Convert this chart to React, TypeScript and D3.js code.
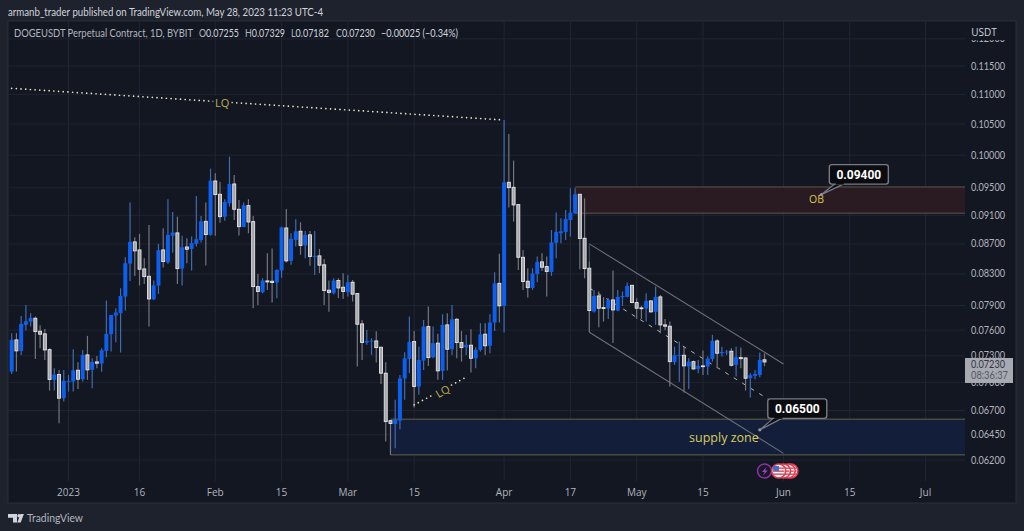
import React from "react";
import * as d3 from "d3";

const firstDay = "2022-12-20";

const opens = [
  .07122, .07485, .07357, .07663, .07703, .07743, .07587, .07556, .07372, .07030,
  .07089, .06831, .07008, .07012, .07137, .07037, .07311, .07141, .07231, .07212,
  .07357, .07552, .07776, .07805, .08011, .08437, .08728, .08619, .08366, .08270,
  .07977, .08150, .08619, .08454, .08812, .08852, .08370, .08659, .08632, .08702,
  .08755, .09014, .08825, .09603, .09405, .09080, .09273, .09558, .09186, .08934,
  .09239, .09010, .08137, .08066, .08210, .08206, .08189, .08345, .08921, .08472,
  .08755, .08875, .08680, .08825, .08525, .08539, .08420, .08091, .08054, .08215,
  .08129, .08066, .08193, .08049, .07675, .07454, .07466, .07473, .07399, .07104,
  .06595, .06561, .06595, .07045, .07264, .07466, .06957, .07246, .07643, .07284,
  .07447, .07130, .07663, .07376, .07731, .07454, .07399, .07423, .07272, .07368,
  .07552, .07416, .07691, .08179, .07895, .09583, .09508, .09254, .08520, .08206,
  .08120, .08301, .08459, .08397, .08327, .08715, .08848, .08866, .09033, .09128,
  .09405, .08778, .08375, .07825, .08019, .07874, .07862, .07969, .07837, .08003,
  .08007, .08154, .07936, .07870, .07862, .07957, .07821, .08007, .07663, .07647,
  .07227, .07299, .07307, .07179, .07234, .07152, .07186, .07179, .07264, .07473,
  .07330, .07338, .07353, .07197, .07280, .07276, .07048, .07074, .07085, .07255,
];
const highs = [
  .07564, .07564, .07772, .07907, .07805, .07764, .07659, .07615, .07387, .07160,
  .07141, .07141, .07085, .07376, .07227, .07368, .07532, .07272, .07299, .07387,
  .07961, .07784, .07866, .08116, .08520, .09283, .08793, .08838, .08507, .08962,
  .08215, .08702, .08916, .09331, .09148, .09080, .08812, .08778, .08802, .09379,
  .09090, .09283, .09790, .09720, .09593, .09331, .09977, .09695, .09321, .09283,
  .09331, .09090, .08299, .08245, .08573, .08637, .08362, .08939, .09191, .08848,
  .09043, .09000, .08880, .08880, .08880, .08632, .08498, .08215, .08245, .08245,
  .08310, .08288, .08223, .08054, .07723, .07603, .07505, .07587, .07406, .07227,
  .06602, .06813, .07085, .07341, .07764, .07591, .07406, .07723, .07886, .07643,
  .07556, .07792, .07805, .07907, .07743, .07591, .07544, .07611, .07399, .07683,
  .07683, .07792, .08323, .08566, .10566, .10337, .09914, .09259, .08619, .08375,
  .08375, .08529, .08573, .08529, .08893, .09138, .09057, .09176, .09493, .09493,
  .09410, .09345, .08463, .08095, .08074, .08003, .07990, .08345, .08095, .08074,
  .08189, .08158, .07990, .07895, .08054, .07961, .08137, .08032, .07735, .07703,
  .07406, .07466, .07406, .07272, .07246, .07253, .07360, .07292, .07544, .07493,
  .07406, .07368, .07387, .07406, .07395, .07280, .07104, .07141, .07338, .07329,
];
const lows = [
  .07096, .07122, .07311, .07595, .07643, .07264, .07387, .07253, .06913, .06913,
  .06567, .06795, .06902, .06902, .06931, .07012, .07030, .06938, .07160, .07119,
  .07284, .07349, .07458, .07338, .07837, .08210, .08275, .08152, .08171, .07643,
  .07969, .08045, .08384, .08433, .08581, .08171, .08150, .08441, .08345, .08664,
  .08720, .08410, .08812, .08812, .08995, .09024, .09225, .09033, .08816, .08930,
  .08848, .07866, .07907, .08054, .08095, .07936, .07990, .08249, .08450, .08420,
  .08664, .08553, .08507, .08406, .08288, .08310, .07907, .07821, .08037, .07990,
  .07981, .08011, .07948, .07179, .07253, .07427, .07311, .07223, .06986, .06382,
  .06249, .06315, .06506, .06813, .07104, .06731, .06867, .07141, .07186, .07272,
  .07030, .07030, .07134, .07311, .07272, .07234, .07311, .07111, .07160, .07349,
  .07311, .07330, .07591, .07691, .07572, .09211, .09010, .08353, .08095, .07998,
  .08095, .08193, .08340, .08011, .08275, .08507, .08711, .08755, .08802, .09120,
  .08362, .08245, .07576, .07813, .07635, .07703, .07735, .07447, .07829, .07895,
  .08003, .07928, .07735, .07735, .07703, .07813, .07663, .07564, .07603, .06957,
  .07197, .07008, .06892, .06931, .07141, .07104, .07085, .07085, .07234, .07160,
  .07292, .07311, .07179, .07067, .07160, .06913, .06838, .07037, .07060, .07182,
];
const closes = [
  .07485, .07357, .07675, .07707, .07748, .07583, .07552, .07368, .07034, .07089,
  .06831, .07019, .07019, .07137, .07037, .07311, .07141, .07231, .07216, .07364,
  .07556, .07784, .07813, .08019, .08441, .08728, .08606, .08362, .08266, .07981,
  .08154, .08615, .08463, .08825, .08857, .08370, .08655, .08628, .08711, .08764,
  .09014, .08829, .09608, .09400, .09080, .09292, .09558, .09186, .08939, .09244,
  .09005, .08137, .08075, .08215, .08197, .08189, .08353, .08930, .08472, .08769,
  .08875, .08680, .08825, .08530, .08539, .08415, .08087, .08062, .08215, .08120,
  .08075, .08193, .08041, .07671, .07454, .07473, .07477, .07395, .07104, .06585,
  .06565, .06602, .07045, .07272, .07462, .06957, .07253, .07643, .07280, .07447,
  .07130, .07663, .07376, .07731, .07454, .07395, .07427, .07272, .07368, .07552,
  .07416, .07691, .08179, .07895, .09583, .09503, .09249, .08520, .08202, .08124,
  .08305, .08459, .08388, .08332, .08720, .08866, .08875, .09047, .09138, .09405,
  .08774, .08370, .07837, .08019, .07866, .07862, .07969, .07845, .08007, .08019,
  .08146, .07936, .07866, .07862, .07957, .07821, .08007, .07663, .07647, .07234,
  .07307, .07311, .07186, .07234, .07152, .07186, .07179, .07268, .07473, .07330,
  .07345, .07349, .07193, .07284, .07268, .07048, .07082, .07096, .07253, .07230,
];

const priceTicks = [
  .12, .115, .11, .105, .1, .095, .091, .087, .083, .079,
  .076, .073, .07, .067, .0645, .062,
];
const timeTickDates = [
  "2023-01-01", "2023-01-16", "2023-02-01", "2023-02-15", "2023-03-01", "2023-03-15", "2023-04-03",
  "2023-04-17", "2023-05-01", "2023-05-15", "2023-06-01", "2023-06-15", "2023-07-01",
];
const timeTickLabels = ["2023", "16", "Feb", "15", "Mar", "15", "Apr", "17", "May", "15", "Jun", "15", "Jul"];

const lqTop = [{ date: "2022-12-19", price: 0.1111 }, { date: "2023-04-03", price: 0.10566 }];
const lqLow = [{ date: "2023-03-15", price: 0.0676 }, { date: "2023-03-26", price: 0.0706 }];
const channelTop = [{ date: "2023-04-21", price: 0.08701 }, { date: "2023-06-01", price: 0.07208 }];
const channelMid = [{ date: "2023-04-21", price: 0.0812 }, { date: "2023-06-01", price: 0.0672 }];
const channelLow = [{ date: "2023-04-21", price: 0.07576 }, { date: "2023-06-01", price: 0.06265 }];
const obZone = { date: "2023-04-18", top: 0.09513, bottom: 0.0913 };
const supplyZone = { date: "2023-03-10", top: 0.0661, bottom: 0.0625 };

const plot = { left: 8, right: 965, top: 21, bottom: 481 };
const BG = "#131722";
const FRAME = "#1e222d";
const GRID = "#212533";
const UP = "#0d5ff0";
const FONT = "'Open Sans', 'Noto Sans', sans-serif";
const NARROW = "Lato, 'Open Sans', sans-serif";

const day = (s: string) => new Date(s + "T00:00:00Z");
const x = d3.scaleUtc().domain([day("2023-01-01"), day("2023-07-01")]).range([68.5, 925.5]);
const y = d3.scaleLog().domain([0.062, 0.115]).range([460, 66]);

const candles = opens.map((open, i) => ({
  date: d3.utcDay.offset(day(firstDay), i),
  open,
  high: highs[i],
  low: lows[i],
  close: closes[i],
}));

type Pt = { date: string; price: number };
const seg = d3
  .line<Pt>()
  .x((p) => x(day(p.date)))
  .y((p) => y(p.price));

const Callout = ({ date, price, label, dx, dy }: { date: string; price: number; label: string; dx: number; dy: number }) => {
  const ax = x(day(date));
  const ay = y(price);
  const bx = ax + dx;
  const by = ay + dy;
  return (
    <g>
      <path
        d={`M${bx + 6},${by + 19} L${ax},${ay} L${bx + 15},${by + 19}`}
        fill="#0b0c10"
        stroke="#787b86"
        strokeWidth={1.2}
      />
      <circle cx={ax} cy={ay} r={1.6} fill="#9598a1" />
      <rect x={bx} y={by} width={59} height={19.5} rx={2.5} fill="#0b0c10" stroke="#787b86" strokeWidth={1.4} />
      <rect x={bx + 6.5} y={by + 17} width={8} height={3} fill="#0b0c10" />
      <text x={bx + 29.5} y={by + 14} textAnchor="middle" fill="#fff" fontSize={12} fontWeight={700} fontFamily="Roboto, sans-serif">
        {label}
      </text>
    </g>
  );
};

const Flag = ({ cx, cy }: { cx: number; cy: number }) => (
  <g>
    <circle cx={cx} cy={cy} r={7} fill="#f2f2f2" stroke="#e23b4e" strokeWidth={1.6} />
    {[-3.5, -0.5, 2.5].map((o) => (
      <rect key={o} x={cx - 5.6} y={cy + o} width={11.2} height={1.3} fill="#d8404f" />
    ))}
    <rect x={cx - 5.5} y={cy - 5} width={5.8} height={5} fill="#3c6fd0" />
  </g>
);

// fitted legend text, the chart's own font is not installed
const Fit = ({ x0, w, name, value }: { x0: number; w: number; name: string; value: string }) => (
  <text x={x0} y={37} fontSize={11} fontFamily={NARROW} fill="#b2b5be" textLength={w} lengthAdjust="spacingAndGlyphs">
    <tspan>{name}</tspan>
    <tspan fill="#d1d4dc">{value}</tspan>
  </text>
);

export default function App() {
  const lqX = x(day("2023-02-01")) + 7;
  const lqY = y(0.1085);
  const lq2X = x(day("2023-03-20")) + 5;
  const lq2Y = y(0.06905);
  const lastY = y(closes[closes.length - 1]);
  return (
    <svg
      width={1024}
      height={531}
      style={{ position: "absolute", left: 0, top: 0, background: FRAME }}
      fontFamily={FONT}
    >
      <defs>
        <clipPath id="pane">
          <rect x={plot.left} y={plot.top} width={plot.right - plot.left} height={482} />
        </clipPath>
        <clipPath id="axis">
          <rect x={966} y={40} width={50} height={440} />
        </clipPath>
      </defs>

      <text x={8} y={16} fill="#d1d4dc" fontSize={12} fontFamily={NARROW} textLength={315} lengthAdjust="spacingAndGlyphs">
        armanb_trader published on TradingView.com, May 28, 2023 11:23 UTC-4
      </text>

      <rect x={8} y={21} width={1008} height={482} fill={BG} stroke="#2a2e39" strokeWidth={1} />

      <g clipPath="url(#pane)">
        {priceTicks.map((p) => (
          <line key={p} x1={plot.left} x2={plot.right} y1={y(p)} y2={y(p)} stroke={GRID} />
        ))}
        {timeTickDates.map((d) => (
          <line key={d} x1={x(day(d))} x2={x(day(d))} y1={plot.top} y2={plot.bottom} stroke={GRID} />
        ))}

        <rect
          x={x(day(obZone.date))}
          y={y(obZone.top)}
          width={plot.right - x(day(obZone.date))}
          height={y(obZone.bottom) - y(obZone.top)}
          fill="#2a1a21"
        />
        <line x1={x(day(obZone.date))} x2={plot.right} y1={y(obZone.top)} y2={y(obZone.top)} stroke="#5e5845" />
        <line x1={x(day(obZone.date))} x2={plot.right} y1={y(obZone.bottom)} y2={y(obZone.bottom)} stroke="#5e5845" />

        <rect
          x={x(day(supplyZone.date))}
          y={y(supplyZone.top)}
          width={plot.right - x(day(supplyZone.date))}
          height={y(supplyZone.bottom) - y(supplyZone.top)}
          fill="#131e3b"
        />
        <line x1={x(day(supplyZone.date))} x2={plot.right} y1={y(supplyZone.top)} y2={y(supplyZone.top)} stroke="#64644a" />
        <line x1={x(day(supplyZone.date))} x2={plot.right} y1={y(supplyZone.bottom)} y2={y(supplyZone.bottom)} stroke="#64644a" />

        <path d={seg(channelMid) || ""} stroke="#b4b6bc" strokeWidth={1} strokeDasharray="4 6" fill="none" />
        <path d={seg(channelTop) || ""} stroke="#6d7079" strokeWidth={1.1} fill="none" />
        <path d={seg(channelLow) || ""} stroke="#6d7079" strokeWidth={1.1} fill="none" />
        <line
          x1={x(day(channelTop[0].date))}
          x2={x(day(channelLow[0].date))}
          y1={y(channelTop[0].price)}
          y2={y(channelLow[0].price)}
          stroke="#4a4d57"
        />

        {candles.map((c, i) => {
          const up = c.close >= c.open;
          const cx = x(c.date);
          const top = y(Math.max(c.open, c.close));
          const h = Math.max(y(Math.min(c.open, c.close)) - top, 0.8);
          return (
            <g key={i}>
              <line x1={cx} x2={cx} y1={y(c.high)} y2={y(c.low)} stroke={up ? "#3e6cb4" : "#74767d"} strokeWidth={1.2} />
              {up ? (
                <rect x={cx - 2} y={top} width={4} height={h} fill={UP} />
              ) : (
                <rect x={cx - 1.5} y={top} width={3} height={h} fill="#a4a5a9" stroke="#e6e6e8" strokeWidth={0.9} />
              )}
            </g>
          );
        })}

        <path d={seg(lqTop) || ""} stroke="#e8e5c0" strokeWidth={1.7} strokeLinecap="round" strokeDasharray="0 4.7" fill="none" />
        <rect x={lqX - 9} y={lqY - 7} width={18} height={14} fill={BG} />
        <text x={lqX} y={lqY + 4} textAnchor="middle" fill="#bdb150" fontSize={11}>
          LQ
        </text>

        <path d={seg(lqLow) || ""} stroke="#e8e5c0" strokeWidth={1.7} strokeLinecap="round" strokeDasharray="0 4.7" fill="none" />
        <g transform={`translate(${lq2X},${lq2Y}) rotate(-30)`}>
          <rect x={-9} y={-7} width={18} height={14} fill={BG} />
          <text y={4} textAnchor="middle" fill="#bdb150" fontSize={11}>
            LQ
          </text>
        </g>

        <text x={x(day("2023-06-08"))} y={y(0.09328) + 4} textAnchor="middle" fill="#d8c94e" fontSize={10.5}>
          OB
        </text>
        <text x={x(day("2023-05-19"))} y={y(0.0642) + 4} textAnchor="middle" fill="#d8cf5a" fontSize={12.5} dx={2}>
          supply zone
        </text>

        <Callout date="2023-06-09" price={0.094} label="0.09400" dx={8} dy={-30} />
        <Callout date="2023-05-27" price={0.065} label="0.06500" dx={8} dy={-31} />

        <circle cx={x(day("2023-05-28"))} cy={471} r={7} fill="#171b27" stroke="#9030a8" strokeWidth={1.5} />
        <path
          d={`M${x(day("2023-05-28")) + 2},467 l-4.5,5 h2.6 l-1.4,3.6 l4.5,-5 h-2.6 z`}
          fill="#a040c0"
        />
        {["2023-06-03", "2023-06-02", "2023-06-01", "2023-05-31"].map((d) => (
          <Flag key={d} cx={x(day(d)) + (d === "2023-06-03" ? -2 : 0)} cy={471} />
        ))}
      </g>

      <Fit x0={14} w={179} name="DOGEUSDT Perpetual Contract, 1D, BYBIT" value="" />
      <Fit x0={199} w={40} name="O" value="0.07255" />
      <Fit x0={245} w={40} name="H" value="0.07329" />
      <Fit x0={291} w={38} name="L" value="0.07182" />
      <Fit x0={336} w={39} name="C" value="0.07230" />
      <Fit x0={381} w={77} name="" value="−0.00025 (−0.34%)" />

      <text x={984} y={36} textAnchor="middle" fill="#d1d4dc" fontSize={10}>
        USDT
      </text>
      <g clipPath="url(#axis)">
        {priceTicks.map((p) => (
          <text key={p} x={971} y={y(p) + 3.5} fill="#b2b5be" fontSize={10.5} fontFamily={NARROW} textLength={34} lengthAdjust="spacingAndGlyphs">
            {d3.format(".5f")(p)}
          </text>
        ))}
      </g>

      <rect x={965} y={lastY - 4} width={48} height={25} fill="#a7a9b3" />
      <text x={971} y={lastY + 6} fill="#33363f" fontSize={10.5} fontFamily={NARROW} textLength={34} lengthAdjust="spacingAndGlyphs">
        0.07230
      </text>
      <text x={971} y={lastY + 17} fill="#55585f" fontSize={10.5} fontFamily={NARROW} textLength={37} lengthAdjust="spacingAndGlyphs">
        08:36:37
      </text>

      {timeTickDates.map((d, i) => (
        <text key={d} x={x(day(d))} y={496} textAnchor="middle" fill="#b2b5be" fontSize={10}>
          {timeTickLabels[i]}
        </text>
      ))}

      <path d="M8,514 h9 v8.5 h-4 v-4.7 h-5 z" fill="#d1d4dc" />
      <circle cx={19} cy={515.8} r={1.7} fill="#d1d4dc" />
      <path d="M20.5,514 h3.4 l-3.2,8.5 h-3.4 z" fill="#d1d4dc" />
      <text x={27} y={522} fill="#b2b5be" fontSize={12} fontFamily={NARROW} textLength={56} lengthAdjust="spacingAndGlyphs">
        TradingView
      </text>
    </svg>
  );
}
